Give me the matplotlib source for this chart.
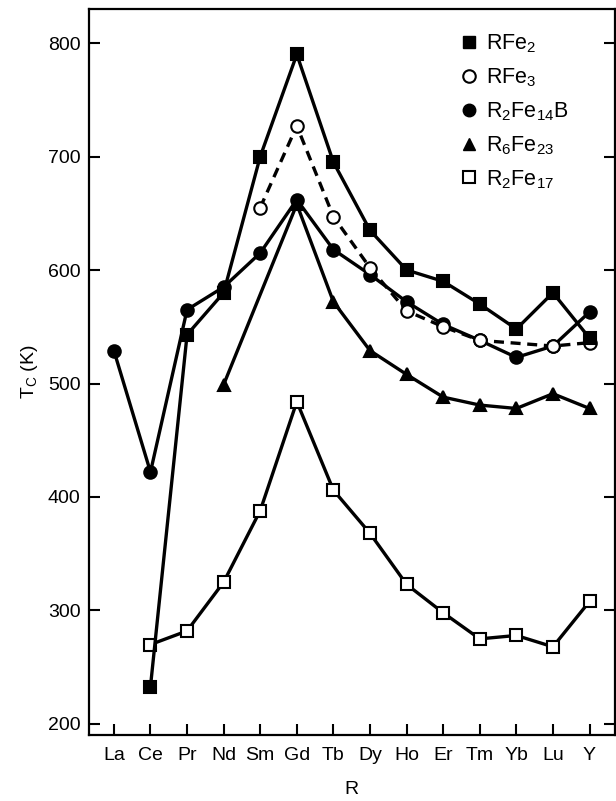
import numpy as np
import matplotlib
matplotlib.use('Agg')
import matplotlib.pyplot as plt
from matplotlib.lines import Line2D

plt.rcParams['font.family'] = ['Liberation Sans', 'DejaVu Sans']
plt.rcParams['mathtext.default'] = 'regular'

elements = ['La', 'Ce', 'Pr', 'Nd', 'Sm', 'Gd', 'Tb', 'Dy', 'Ho', 'Er', 'Tm', 'Yb', 'Lu', 'Y']
nan = np.nan

# Curie temperatures (K), NaN where no data
rfe2 = [nan, 233, 543, 580, 700, 790, 695, 635, 600, 590, 570, 548, 580, 540]
rfe3 = [nan, nan, nan, nan, 655, 727, 647, 602, 564, 550, 538, nan, 533, 536]
r2fe14b = [529, 422, 565, 585, 615, 662, 618, 596, 572, 552, 538, 523, 533, 563]
r6fe23 = [nan, nan, nan, 499, nan, 658, 572, 529, 508, 488, 481, 478, 491, 478]
r2fe17 = [nan, 270, 282, 325, 388, 484, 406, 368, 323, 298, 275, 278, 268, 308]

x = np.arange(len(elements))

fig = plt.figure(figsize=(6.16, 8.01), dpi=100)
ax = fig.add_axes([0.1445, 0.0824, 0.8535, 0.9064])

def draw(vals, marker, face, ls='-', ms=8):
    v = np.array(vals, dtype=float)
    m = ~np.isnan(v)
    ax.plot(x[m], v[m], ls=ls, color='black', lw=2.4, marker=marker,
            markersize=ms, markerfacecolor=face, markeredgecolor='black',
            markeredgewidth=1.5, dashes=(3, 2) if ls == '--' else (None, None))

draw(r2fe17, 's', 'white', ms=9)
draw(r6fe23, '^', 'black', ms=9)
draw(r2fe14b, 'o', 'black', ms=9)
draw(rfe3, 'o', 'white', ls='--', ms=9)
draw(rfe2, 's', 'black', ms=8)

ax.set_xlim(-0.68, 13.69)
ax.set_ylim(190.3, 830)
ax.set_xticks(x)
ax.set_xticklabels(elements)
ax.set_yticks([200, 300, 400, 500, 600, 700, 800])
ax.tick_params(axis='both', direction='in', length=8, width=1.5, labelsize=14)
ax.tick_params(axis='y', right=True, labelright=False, pad=6)
ax.tick_params(axis='x', pad=9)
for s in ax.spines.values():
    s.set_linewidth(1.6)

ax.set_xlabel('R', fontsize=14, labelpad=12)
ax.set_ylabel('T$_C$ (K)', fontsize=14, labelpad=6)

handles = [
    Line2D([], [], ls='none', marker='s', color='black', markersize=9, label='RFe$_2$'),
    Line2D([], [], ls='none', marker='o', markerfacecolor='white', markeredgecolor='black',
           markeredgewidth=1.5, markersize=9, label='RFe$_3$'),
    Line2D([], [], ls='none', marker='o', color='black', markersize=9, label='R$_2$Fe$_{14}$B'),
    Line2D([], [], ls='none', marker='^', color='black', markersize=9, label='R$_6$Fe$_{23}$'),
    Line2D([], [], ls='none', marker='s', markerfacecolor='white', markeredgecolor='black',
           markeredgewidth=1.5, markersize=9, label='R$_2$Fe$_{17}$'),
]
ax.legend(handles=handles, loc='upper left', bbox_to_anchor=(0.69, 0.979), frameon=False,
          fontsize=15.5, handlelength=0.8, handletextpad=0.4, labelspacing=0.52,
          borderaxespad=0)

fig.savefig('out.png', dpi=100)
